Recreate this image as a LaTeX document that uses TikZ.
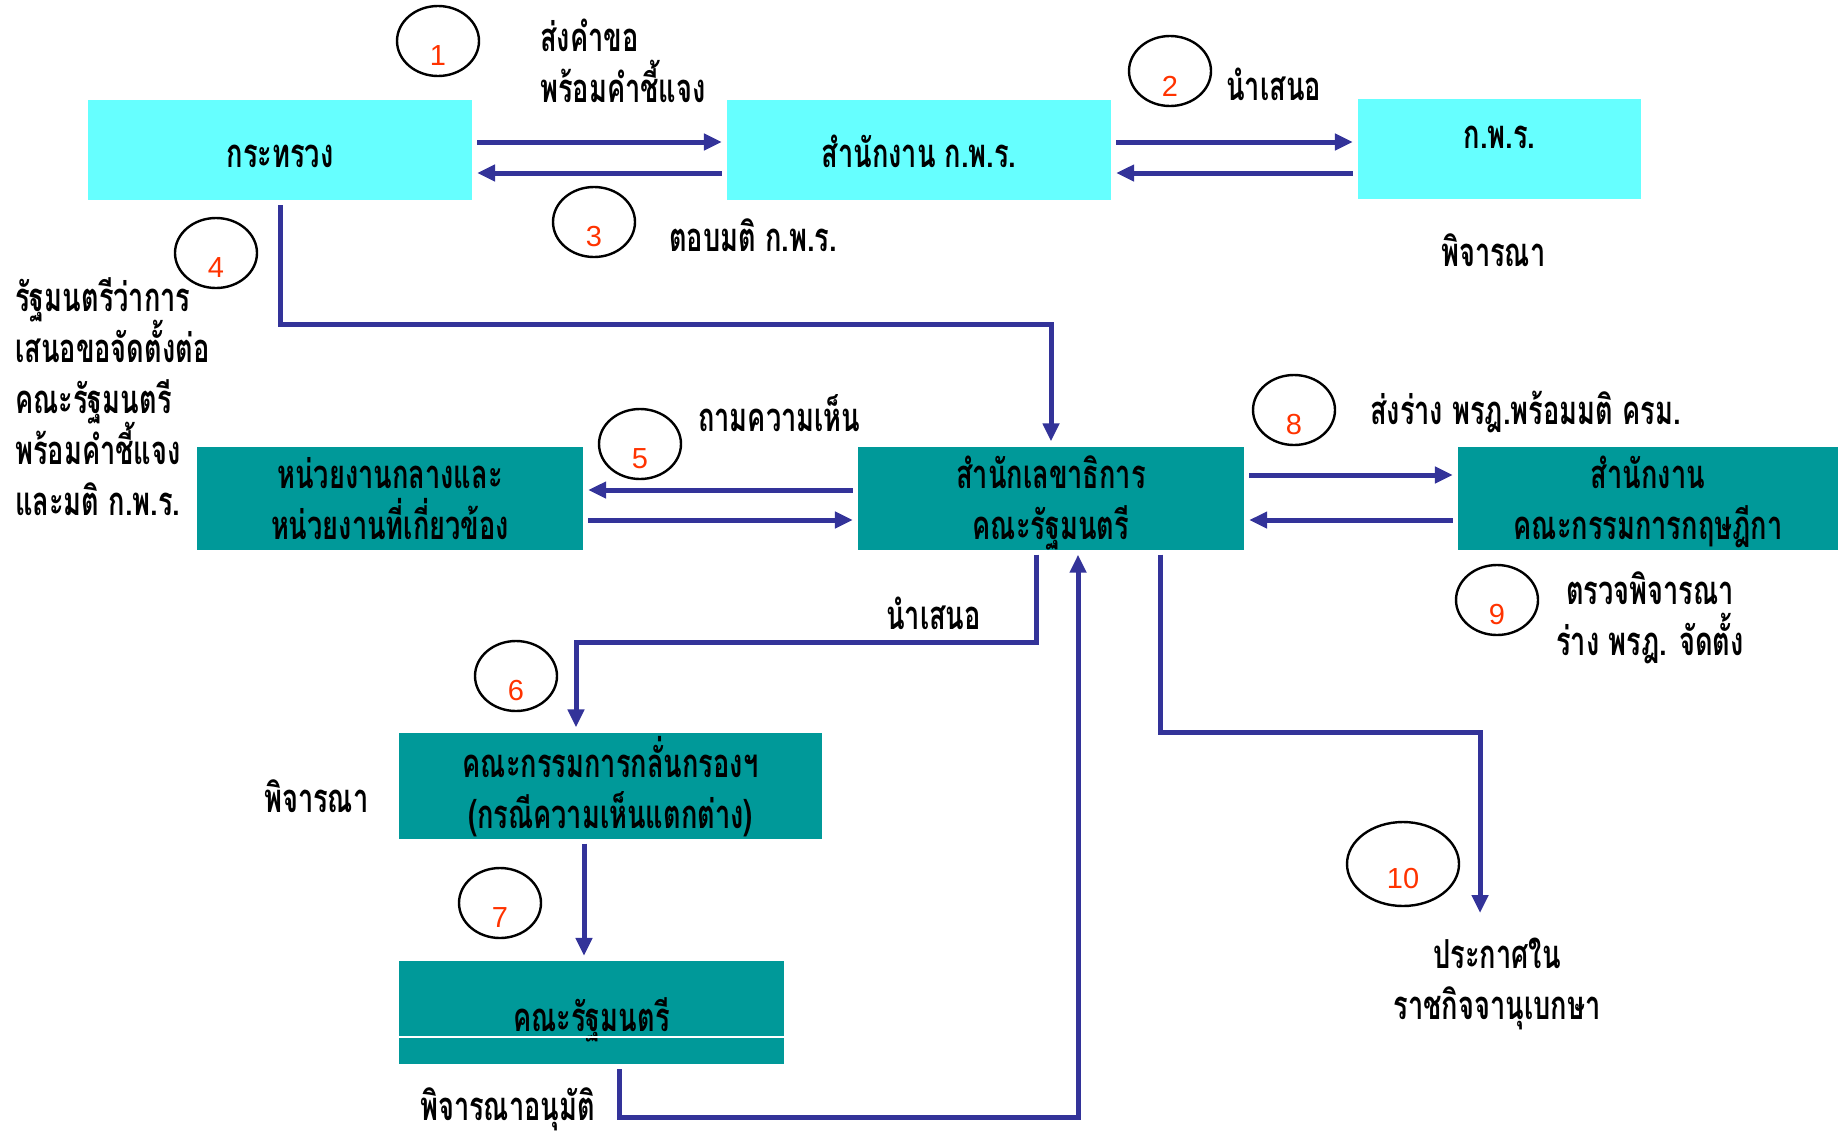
\documentclass[tikz,border=0pt]{standalone}
\usepackage{fontspec}
\usepackage{tikz}
\usetikzlibrary{calc,arrows.meta,shapes.geometric,positioning}

\newfontfamily\thaifont[Script=Thai,FakeStretch=0.68]{Loma}
\newfontfamily\numfont{Liberation Sans}
\newcommand\thaitext{\thaifont\bfseries\fontsize{40}{51}\selectfont\lineskiplimit-60pt\relax}

\definecolor{kprcyan}{HTML}{66FFFF}
\definecolor{cabteal}{HTML}{009999}
\definecolor{flowblue}{HTML}{333399}
\definecolor{numred}{HTML}{FF3300}

\tikzset{
	thai/.style={font=\thaitext, inner sep=0pt},
	cyanbox/.style={thai, rectangle, fill=kprcyan, minimum width=384pt, minimum height=100pt, align=center,
		text height=45pt, text depth=10pt},
	tealbox/.style={thai, rectangle, fill=cabteal, minimum width=386pt, minimum height=102pt, align=center,
		text height=93pt, text depth=10pt},
	note/.style={thai, anchor=base west, align=left},
	flow/.style={draw=flowblue, line width=5pt, -{Triangle[length=18pt,width=16pt]}, shorten <=5pt, shorten >=5pt},
	stepnum/.style={font=\numfont\fontsize{29}{30}\selectfont, text=numred, inner sep=0pt},
	stepcirc/.style={draw, ellipse, line width=2.4pt, minimum width=82pt, minimum height=70pt, inner sep=0pt,
		label={[stepnum,yshift=-15pt]center:#1}}
}

\begin{document}
\begin{tikzpicture}[x=1pt, y=-1pt]
	\useasboundingbox (0,0) rectangle (1838,1133);
	
	%top row
	\node[cyanbox] (ministry) at (280,150) {กระทรวง};
	\node[cyanbox] (opdcoffice) at (919,150) {สำนักงาน ก.พ.ร.};
	\node[cyanbox, minimum width=283pt, text height=14pt, text depth=15pt] (opdc) at (1499.5,149) {ก.พ.ร.};
	
	%middle row
	\node[tealbox] (agency) at (390,498) {หน่วยงานกลางและ\\หน่วยงานที่เกี่ยวข้อง};
	\node[tealbox] (secretariat) at (1051,498) {สำนักเลขาธิการ\\คณะรัฐมนตรี};
	\node[tealbox, minimum width=380pt] (council) at (1648,498) {สำนักงาน\\คณะกรรมการกฤษฎีกา};
	
	%bottom
	\node[tealbox, minimum width=423pt, minimum height=101pt, text height=96pt] (screening) at (610.5,785.5) {คณะกรรมการกลั่นกรองฯ\\(กรณีความเห็นแตกต่าง)};
	\node[tealbox, minimum width=385pt, minimum height=103pt, text height=47pt] (cabinet) at (591.5,1012.5) {คณะรัฐมนตรี};
	\draw[white, line width=1.5pt] ([yshift=27pt]cabinet.south west) -- ([yshift=27pt]cabinet.south east);
	
	%step numbers
	\node[stepcirc=1] (s1) at (438,41) {};
	\node[stepcirc=2] (s2) at (1170,71) {};
	\node[stepcirc=3] (s3) at (594,222) {};
	\node[stepcirc=4] (s4) at (216,253) {};
	\node[stepcirc=5] (s5) at (640,444) {};
	\node[stepcirc=6] (s6) at (516,676) {};
	\node[stepcirc=7] (s7) at (500,903) {};
	\node[stepcirc=8] (s8) at (1294,410) {};
	\node[stepcirc=9] (s9) at (1497,600) {};
	\node[stepcirc=10, minimum width=112pt, minimum height=84pt] (s10) at (1403,864) {};
	
	%notes (base = last line)
	\node[note] (request) at (540,102) {ส่งคำขอ\\พร้อมคำชี้แจง};
	\node[note] (propose) at (1226,100) {นำเสนอ};
	\node[note] (reply) at (669,251) {ตอบมติ ก.พ.ร.};
	\node[note] (consider) at (1441,266) {พิจารณา};
	\node[note] (minister) at (15,515) {รัฐมนตรีว่าการ\\เสนอขอจัดตั้งต่อ\\คณะรัฐมนตรี\\พร้อมคำชี้แจง\\และมติ ก.พ.ร.};
	\node[note] (opinion) at (698,431) {ถามความเห็น};
	\node[note] (draft) at (1370,424) {ส่งร่าง พรฎ.พร้อมมติ ครม.};
	\node[note] (submit) at (886,629) {นำเสนอ};
	\node[note, anchor=base, align=center] (review) at (1650,655) {ตรวจพิจารณา\\ร่าง พรฎ. จัดตั้ง};
	\node[note] (screenconsider) at (264,812) {พิจารณา};
	\node[note, anchor=base, align=center] (gazette) at (1497,1019) {ประกาศใน\\ราชกิจจานุเบกษา};
	\node[note] (approve) at (420,1120) {พิจารณาอนุมัติ};
	
	%ministry <-> opdc office
	\draw[flow] ($(ministry.east)+(0,-8)$) -- ($(opdcoffice.west)+(0,-8)$);
	\draw[flow] ($(opdcoffice.west)+(0,23)$) -- ($(ministry.east)+(0,23)$);
	%opdc office <-> opdc
	\draw[flow] ($(opdcoffice.east)+(0,-8)$) -- ($(opdc.west)+(0,-7)$);
	\draw[flow] ($(opdc.west)+(0,24)$) -- ($(opdcoffice.east)+(0,23)$);
	
	%ministry to secretariat
	\draw[flow] (ministry.south) -- ++(0,124) -| (secretariat.north);
	
	%secretariat <-> agency
	\draw[flow] ($(secretariat.west)+(0,-8)$) -- ($(agency.east)+(0,-8)$);
	\draw[flow] ($(agency.east)+(0,22)$) -- ($(secretariat.west)+(0,22)$);
	%secretariat <-> council
	\draw[flow] ($(secretariat.east)+(0,-23)$) -- ($(council.west)+(0,-23)$);
	\draw[flow] ($(council.west)+(0,22)$) -- ($(secretariat.east)+(0,22)$);
	
	%secretariat -> screening -> cabinet -> secretariat
	\draw[flow] ($(secretariat.south)+(-15,0)$) -- ++(0,93) -| ($(screening.north)+(-34.5,0)$);
	\draw[flow] ($(screening.south)+(-26.5,0)$) -- ($(cabinet.north)+(-7.5,0)$);
	\draw[flow] ($(cabinet.south)+(27.5,0)$) -- ++(0,53) -| ($(secretariat.south)+(27,0)$);
	
	%secretariat to gazette
	\coordinate (gazettein) at (1480,918);
	\draw[flow] ($(secretariat.south)+(109,0)$) -- ++(0,183) -| (gazettein);
\end{tikzpicture}
\end{document}
